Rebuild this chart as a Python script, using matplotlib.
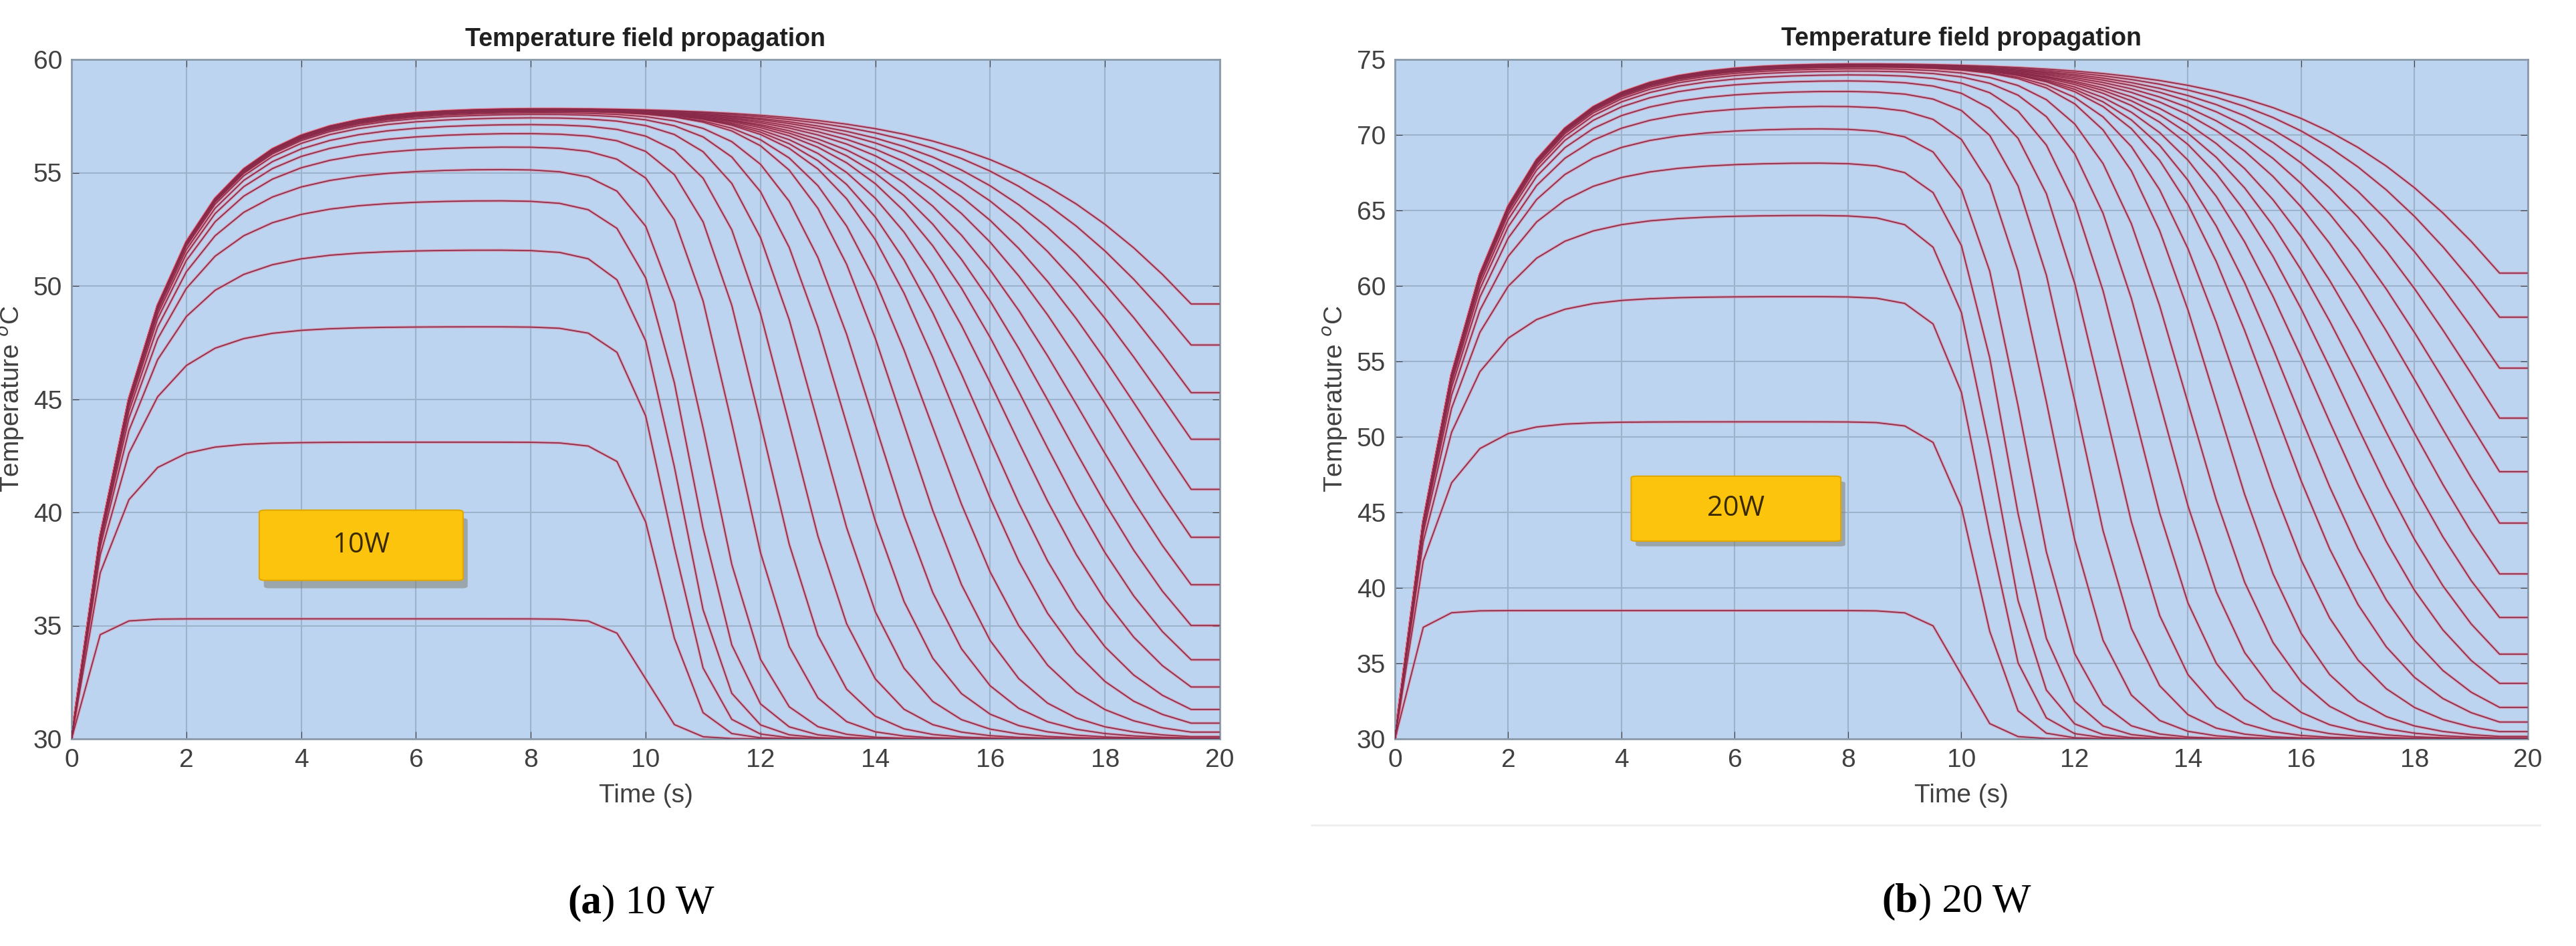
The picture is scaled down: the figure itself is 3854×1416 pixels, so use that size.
import numpy as np
import matplotlib
matplotlib.use("Agg")
import matplotlib.pyplot as plt
from matplotlib.patches import FancyBboxPatch

plt.rcParams['font.family'] = ['Liberation Sans', 'DejaVu Sans']

# ---- data ----
time_s = [0, 0.5, 1, 1.5, 2, 2.5, 3, 3.5, 4, 4.5, 5, 5.5, 6, 6.5, 7, 7.5, 8, 8.5, 9, 9.5,
          10, 10.5, 11, 11.5, 12, 12.5, 13, 13.5, 14, 14.5, 15, 15.5, 16, 16.5, 17, 17.5,
          18, 18.5, 19, 19.5]
# plateau temperature of each sensor curve
plateau_10w = [35.3, 43.1, 48.2, 51.6, 53.8, 55.2, 56.2, 56.8, 57.2, 57.5, 57.65, 57.72,
               57.77, 57.8, 57.83, 57.85, 57.87, 57.88, 57.9, 57.9, 57.91, 57.92, 57.93,
               57.93, 57.94, 57.95]
plateau_20w = [38.5, 51.0, 59.3, 64.7, 68.2, 70.5, 72.0, 73.0, 73.7, 74.1, 74.35, 74.5,
               74.6, 74.65, 74.7, 74.72, 74.75, 74.77, 74.8, 74.8, 74.82, 74.84, 74.85,
               74.86, 74.87, 74.9]
# time at which each curve is half-way down, and width of its fall (s)
fall_mid = [10.0, 10.3, 10.45, 10.59, 10.8, 11.09, 11.57, 12.05, 12.53, 13.02, 13.51, 14.0,
            14.5, 14.98, 15.47, 15.88, 16.34, 16.78, 17.22, 17.69, 18.21, 18.73, 19.3,
            19.88, 20.55, 21.23]
fall_width = [0.25, 0.3, 0.35, 0.4, 0.45, 0.5, 0.55, 0.6, 0.66, 0.72, 0.78, 0.84, 0.89,
              1.0, 1.1, 1.2, 1.31, 1.4, 1.5, 1.6, 1.7, 1.8, 1.9, 2.0, 2.1, 2.2]
rise_rate = 21.5     # initial heating slope, degC/s (10 W); scaled for 20 W
ambient = 30.0

fig = plt.figure(figsize=(38.55, 14.16), dpi=100)
W, H = 3855, 1416

def curves(plateaus, rate):
    t = np.array(time_s)
    out = []
    for P, m, w in zip(plateaus, fall_mid, fall_width):
        tau = (P - ambient) / rate
        rise = 1 - np.exp(-t / tau)
        fall = 1 / (1 + np.exp((t - m) / w))
        fall = fall / (1 / (1 + np.exp(-m / w)))
        y = ambient + (P - ambient) * rise * np.minimum(fall, 1)
        out.append((np.append(t, 20.0), np.append(y, y[-1])))
    return out

def panel(rect, plateaus, rate, ylim, yticks, label, box, caption, cap_xy, title_y):
    x0, y0, x1, y1 = rect
    ax = fig.add_axes([x0 / W, 1 - y1 / H, (x1 - x0) / W, (y1 - y0) / H])
    ax.set_facecolor('#bcd4f0')
    for t, y in curves(plateaus, rate):
        ax.plot(t, y, color='#f07080', lw=3.0, alpha=0.55, zorder=2)
        ax.plot(t, y, color='#8a2a4a', lw=1.2, zorder=3)
    ax.set_xlim(0, 20)
    ax.set_ylim(*ylim)
    ax.set_xticks(range(0, 21, 2))
    ax.set_yticks(yticks)
    ax.grid(True, color='#9db3cc', lw=1.5)
    ax.set_axisbelow(True)
    ax.tick_params(labelsize=28, colors='#404040', length=8, direction='in',
                   right=True, top=True, pad=10)
    for s in ax.spines.values():
        s.set_color('#8a9aaa'); s.set_linewidth(2)
    ax.set_xlabel('Time (s)', fontsize=28, color='#404040', labelpad=12)
    ax.set_ylabel('Temperature $^{o}$C', fontsize=28, color='#404040', labelpad=8)
    fig.text((x0 + x1) / 2 / W, 1 - title_y / H, 'Temperature field propagation',
             ha='center', va='center', fontsize=27, fontweight='bold', color='#202020')
    bx0, bx1, by0, by1 = box
    ax.add_patch(FancyBboxPatch((bx0 + 0.08, by0 - 0.35), bx1 - bx0, by1 - by0,
                                boxstyle='round,pad=0,rounding_size=0.1',
                                fc='#7a7a6a', ec='none', alpha=0.5, zorder=4))
    ax.add_patch(FancyBboxPatch((bx0, by0), bx1 - bx0, by1 - by0,
                                boxstyle='round,pad=0,rounding_size=0.1',
                                fc='#fcc40c', ec='#e0a800', lw=1.5, zorder=5))
    ax.text((bx0 + bx1) / 2, (by0 + by1) / 2, label, ha='center', va='center',
            fontsize=30, color='#3a2a00', family='Open Sans', zorder=6)
    fig.text(cap_xy[0] / W, 1 - cap_xy[1] / H, caption[0], ha='right', va='center',
             fontsize=44, fontweight='bold', family='Liberation Serif')
    fig.text(cap_xy[0] / W, 1 - cap_xy[1] / H, caption[1], ha='left', va='center',
             fontsize=44, family='Liberation Serif')
    return ax

panel((107, 89, 1825, 1106), plateau_10w, rate=rise_rate, ylim=(30, 60),
      yticks=range(30, 61, 5), label='10W', box=(3.27, 6.82, 37.0, 40.1),
      caption=('(a', ') 10 W'), cap_xy=(900, 1352), title_y=59)
panel((2087, 89, 3782, 1106), plateau_20w, rate=rise_rate * 1.61, ylim=(30, 75),
      yticks=range(30, 76, 5), label='20W', box=(4.17, 7.87, 43.1, 47.4),
      caption=('(b', ') 20 W'), cap_xy=(2870, 1350), title_y=58)
fig.add_artist(plt.Line2D([1962 / W, 3800 / W], [1 - 1235 / H] * 2, color='#eeeeee', lw=2))

fig.savefig('out.png', dpi=100)
